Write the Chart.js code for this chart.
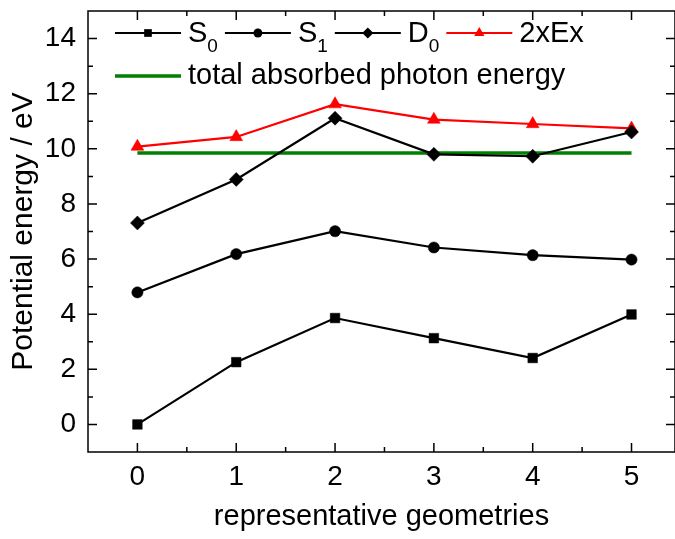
<!DOCTYPE html>
<html>
<head>
<meta charset="utf-8">
<script src="https://cdn.jsdelivr.net/npm/chart.js@4/dist/chart.umd.min.js"></script>
<style>
  body { margin: 0; background: #fff; overflow: hidden; }
  #wrap { width: 675px; height: 539px; }
</style>
</head>
<body>
<div id="wrap"><canvas id="c"></canvas></div>
<script>
// data
let geometries = [0, 1, 2, 3, 4, 5];
let s0 = [0, 2.26, 3.86, 3.13, 2.41, 3.99];
let s1 = [4.79, 6.18, 7.01, 6.42, 6.14, 5.98];
let d0 = [7.31, 8.89, 11.11, 9.80, 9.73, 10.61];
let ex2 = [10.08, 10.43, 11.62, 11.06, 10.90, 10.74];
let photonX = [0, 5];
let photonY = [9.85, 9.85];

let xTicks = [0, 1, 2, 3, 4, 5];
let yTicks = [0, 2, 4, 6, 8, 10, 12, 14];
let xMinor = [0.5, 1.5, 2.5, 3.5, 4.5];
let yMinor = [1, 3, 5, 7, 9, 11, 13];

let legendNames = ['S', 'S', 'D', '2xEx'];
let legendSubs = ['0', '1', '0', ''];
let photonLabel = 'total absorbed photon energy';

const FONT = '"Liberation Sans", Arial, sans-serif';

function pts(xs, ys) {
    return xs.map((x, i) => ({x: x, y: ys[i]}));
}

function marker(ctx, style, x, y, r, color) {
    ctx.fillStyle = color;
    ctx.beginPath();
    if (style == 'rect') {
        let h = r * Math.SQRT1_2;
        ctx.rect(x - h, y - h, 2 * h, 2 * h);
    } else if (style == 'circle') {
        ctx.arc(x, y, r, 0, Math.PI * 2);
    } else if (style == 'rectRot') {
        ctx.moveTo(x - r, y); ctx.lineTo(x, y - r); ctx.lineTo(x + r, y); ctx.lineTo(x, y + r);
    } else if (style == 'triangle') {
        ctx.moveTo(x, y - r);
        ctx.lineTo(x + r * Math.sin(2 * Math.PI / 3), y - r * Math.cos(2 * Math.PI / 3));
        ctx.lineTo(x + r * Math.sin(4 * Math.PI / 3), y - r * Math.cos(4 * Math.PI / 3));
    }
    ctx.closePath();
    ctx.fill();
}

// frame with inward ticks on all four sides
const framePlugin = {
    id: 'frame',
    afterDraw(chart) {
        let ctx = chart.ctx;
        let a = chart.chartArea;
        let xs = chart.scales.x, ys = chart.scales.y;
        ctx.save();
        ctx.strokeStyle = '#000';
        ctx.lineWidth = 1.5;
        ctx.strokeRect(a.left, a.top, a.right - a.left, a.bottom - a.top);
        ctx.beginPath();
        let tick = (v, len) => {
            let p = xs.getPixelForValue(v);
            ctx.moveTo(p, a.bottom); ctx.lineTo(p, a.bottom - len);
            ctx.moveTo(p, a.top); ctx.lineTo(p, a.top + len);
        };
        let ytick = (v, len) => {
            let p = ys.getPixelForValue(v);
            ctx.moveTo(a.left, p); ctx.lineTo(a.left + len, p);
            ctx.moveTo(a.right, p); ctx.lineTo(a.right - len, p);
        };
        xTicks.forEach(v => tick(v, 9));
        xMinor.forEach(v => tick(v, 5));
        yTicks.forEach(v => ytick(v, 9));
        yMinor.forEach(v => ytick(v, 5));
        ctx.stroke();
        ctx.restore();
    }
};

// legend with subscripts, drawn inside the plot
const legendPlugin = {
    id: 'subLegend',
    afterDatasetsDraw(chart) {
        let ctx = chart.ctx;
        ctx.save();
        let x = 115;
        let rowY = 33;
        chart.data.datasets.slice(0, 4).forEach((ds, i) => {
            ctx.strokeStyle = ds.borderColor;
            ctx.lineWidth = 2;
            ctx.beginPath();
            ctx.moveTo(x, rowY); ctx.lineTo(x + 66, rowY);
            ctx.stroke();
            marker(ctx, ds.pointStyle, x + 33, rowY, ds.pointRadius * 0.8, ds.borderColor);
            x += 73;
            ctx.fillStyle = '#000';
            ctx.textBaseline = 'alphabetic';
            ctx.font = '29px ' + FONT;
            ctx.fillText(legendNames[i], x, 42);
            x += ctx.measureText(legendNames[i]).width;
            if (legendSubs[i]) {
                ctx.font = '19px ' + FONT;
                ctx.fillText(legendSubs[i], x, 52);
                x += ctx.measureText(legendSubs[i]).width;
            }
            x += 7;
        });
        let g = chart.data.datasets[4];
        ctx.strokeStyle = g.borderColor;
        ctx.lineWidth = g.borderWidth;
        ctx.beginPath();
        ctx.moveTo(115, 76); ctx.lineTo(181, 76);
        ctx.stroke();
        ctx.fillStyle = '#000';
        ctx.font = '29px ' + FONT;
        ctx.fillText(photonLabel, 188, 84);
        ctx.restore();
    }
};

let series = [
    {label: 'S0', data: pts(geometries, s0), borderColor: '#000', backgroundColor: '#000', pointStyle: 'rect', pointRadius: 6.8},
    {label: 'S1', data: pts(geometries, s1), borderColor: '#000', backgroundColor: '#000', pointStyle: 'circle', pointRadius: 5.6},
    {label: 'D0', data: pts(geometries, d0), borderColor: '#000', backgroundColor: '#000', pointStyle: 'rectRot', pointRadius: 7},
    {label: '2xEx', data: pts(geometries, ex2), borderColor: '#ff0000', backgroundColor: '#ff0000', pointStyle: 'triangle', pointRadius: 7.4},
    {label: 'total absorbed photon energy', data: pts(photonX, photonY), borderColor: '#008000', borderWidth: 3.5, pointRadius: 0}
];
series.forEach(s => {
    if (s.borderWidth == undefined) s.borderWidth = 2.2;
    s.pointBorderWidth = 0.5;
    s.tension = 0;
});

new Chart(document.getElementById('c'), {
    type: 'line',
    data: {datasets: series},
    options: {
        responsive: true,
        maintainAspectRatio: false,
        animation: false,
        layout: {autoPadding: false, padding: {top: 11, right: -1, left: 0, bottom: 0}},
        plugins: {legend: {display: false}, tooltip: {enabled: false}},
        scales: {
            x: {
                type: 'linear',
                min: -0.5,
                max: 5.44,
                afterBuildTicks: s => { s.ticks = xTicks.map(v => ({value: v})); },
                afterFit: s => { s.height = 87; s.paddingLeft = 0; s.paddingRight = 0; },
                grid: {display: false, drawTicks: false},
                border: {display: false},
                ticks: {color: '#000', padding: 8, font: {family: FONT, size: 28}},
                title: {display: true, text: 'representative geometries', color: '#000',
                        font: {family: FONT, size: 29}, padding: {top: 0, bottom: 5}}
            },
            y: {
                min: -1,
                max: 15,
                afterBuildTicks: s => { s.ticks = yTicks.map(v => ({value: v})); },
                afterFit: s => { s.width = 88; s.paddingTop = 0; s.paddingBottom = 0; },
                grid: {display: false, drawTicks: false},
                border: {display: false},
                ticks: {color: '#000', padding: 12, font: {family: FONT, size: 28}},
                title: {display: true, text: 'Potential energy / eV', color: '#000',
                        font: {family: FONT, size: 30}, padding: {top: 6, bottom: 0}}
            }
        }
    },
    plugins: [framePlugin, legendPlugin]
});
</script>
</body>
</html>
